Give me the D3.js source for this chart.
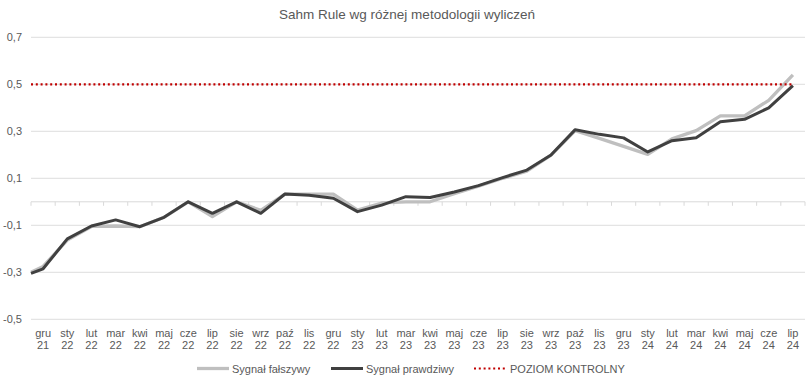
<!DOCTYPE html>
<html lang="pl">
<head>
<meta charset="UTF-8">
<title>Sahm Rule</title>
<script src="https://cdn.jsdelivr.net/npm/d3@7"></script>
<style>
  body { margin: 0; background: #fff; font-family: 'Liberation Sans', Arial, sans-serif; }
  svg text { fill: #595959; }
</style>
</head>
<body>
<svg id="chart" width="812" height="380"></svg>
<script>
// months on the x axis (two lines: month / year)
const months = ["gru","sty","lut","mar","kwi","maj","cze","lip","sie","wrz","paź","lis",
                "gru","sty","lut","mar","kwi","maj","cze","lip","sie","wrz","paź","lis",
                "gru","sty","lut","mar","kwi","maj","cze","lip"];
const years  = ["21","22","22","22","22","22","22","22","22","22","22","22",
                "22","23","23","23","23","23","23","23","23","23","23","23",
                "23","24","24","24","24","24","24","24"];

// series values (the line starts at the plot's left edge with an extra value)
const startFalse = -0.300;
const startTrue  = -0.305;
const signalFalse = [-0.275,-0.163,-0.105,-0.103,-0.106,-0.066,0.000,-0.063,0.000,-0.036,0.033,0.033,
                     0.033,-0.035,-0.005,0.000,0.000,0.035,0.067,0.100,0.130,0.199,0.303,0.270,
                     0.236,0.202,0.268,0.303,0.366,0.366,0.432,0.540];
const signalTrue  = [-0.285,-0.158,-0.103,-0.077,-0.106,-0.066,0.000,-0.049,0.000,-0.049,0.033,0.028,
                     0.015,-0.042,-0.014,0.022,0.018,0.042,0.069,0.103,0.135,0.199,0.307,0.287,
                     0.272,0.212,0.260,0.273,0.341,0.351,0.400,0.494];
const controlLevel = 0.5;
const yTicks = [-0.5, -0.3, -0.1, 0.1, 0.3, 0.5, 0.7];

const svg = d3.select("#chart");
const plotLeft = 31, plotRight = 805, plotTop = 37.3, plotBottom = 319.3;

const cats = months.map((m, i) => i);
const x = d3.scaleBand().domain(cats).range([plotLeft, plotRight]);
const xc = i => x(i) + x.bandwidth() / 2;
const y = d3.scaleLinear().domain([-0.5, 0.7]).range([plotBottom, plotTop]);

// title
svg.append("text")
  .attr("x", 407).attr("y", 19)
  .attr("text-anchor", "middle")
  .style("font-size", "13.5px")
  .text("Sahm Rule wg różnej metodologii wyliczeń");

// gridlines + y labels
svg.append("g").selectAll("line").data(yTicks).join("line")
  .attr("x1", plotLeft).attr("x2", plotRight)
  .attr("y1", d => y(d)).attr("y2", d => y(d))
  .attr("stroke", "#e4e4e4").attr("stroke-width", 1.3);

svg.append("g").selectAll("text").data(yTicks).join("text")
  .attr("x", 22).attr("y", d => y(d) + 4)
  .attr("text-anchor", "end")
  .style("font-size", "11px")
  .text(d => d3.format(".1f")(d).replace(".", ",").replace("−", "-"));

// zero axis with ticks between categories
svg.append("line")
  .attr("x1", plotLeft).attr("x2", plotRight)
  .attr("y1", y(0)).attr("y2", y(0))
  .attr("stroke", "#d9d9d9").attr("stroke-width", 1);
svg.append("g").selectAll("line").data(d3.range(cats.length + 1)).join("line")
  .attr("x1", i => plotLeft + i * x.step()).attr("x2", i => plotLeft + i * x.step())
  .attr("y1", y(0)).attr("y2", y(0) + 4)
  .attr("stroke", "#d9d9d9");

// x labels
const xl = svg.append("g").selectAll("text").data(cats).join("text")
  .attr("text-anchor", "middle")
  .style("font-size", "11px");
xl.append("tspan").attr("x", xc).attr("y", 336.5).text(i => months[i]);
xl.append("tspan").attr("x", xc).attr("y", 348.5).text(i => years[i]);

// lines
const line = d3.line().x(d => d[0]).y(d => y(d[1]));
const pts = (start, vals) => [[plotLeft, start]].concat(vals.map((v, i) => [xc(i), v]));

svg.append("path")
  .attr("d", line(pts(startFalse, signalFalse)))
  .attr("fill", "none").attr("stroke", "#bfbfbf").attr("stroke-width", 3.3)
  .attr("stroke-linejoin", "round");

svg.append("path")
  .attr("d", line(pts(startTrue, signalTrue)))
  .attr("fill", "none").attr("stroke", "#404040").attr("stroke-width", 3)
  .attr("stroke-linejoin", "round");

svg.append("path")
  .attr("d", line([[plotLeft, controlLevel], [xc(cats.length - 1), controlLevel]]))
  .attr("fill", "none").attr("stroke", "#c00000").attr("stroke-width", 2.2)
  .attr("stroke-dasharray", "2,2.8");

// legend
const legend = [
  { name: "Sygnał fałszywy", color: "#bfbfbf", w: 3.3, dash: null, x: 197 },
  { name: "Sygnał prawdziwy", color: "#404040", w: 3, dash: null, x: 331 },
  { name: "POZIOM KONTROLNY", color: "#c00000", w: 2.2, dash: "2,2.8", x: 474 }
];
const lg = svg.append("g").selectAll("g").data(legend).join("g")
  .attr("transform", d => `translate(${d.x},368.5)`);
lg.append("line")
  .attr("x1", 0).attr("x2", 32).attr("y1", 0).attr("y2", 0)
  .attr("stroke", d => d.color).attr("stroke-width", d => d.w)
  .attr("stroke-dasharray", d => d.dash);
lg.append("text")
  .attr("x", d => d.dash ? 36 : 35).attr("y", 4)
  .style("font-size", "11px")
  .text(d => d.name);
</script>
</body>
</html>
